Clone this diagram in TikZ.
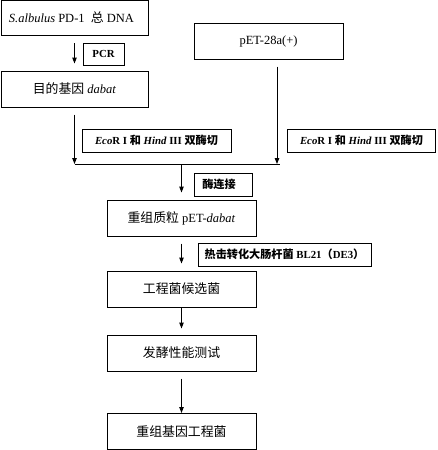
\documentclass[tikz,border=0pt]{standalone}
\usepackage{fontspec}
\setmainfont{Liberation Serif}
\newfontfamily\cjk[Scale=1.03]{Noto Sans CJK SC}
\usetikzlibrary{arrows.meta}
\begin{document}
\begin{tikzpicture}[x=1pt,y=-1pt,
  box/.style={draw, line width=1pt, minimum width=149pt, minimum height=36pt, inner sep=0pt, font=\fontsize{12.5}{14}\selectfont},
  lbl/.style={draw, line width=1pt, inner sep=0pt, minimum height=23pt, font=\bfseries\fontsize{10.8}{12}\selectfont},
  arr/.style={line width=1pt, -{Triangle[length=6pt,width=4.5pt]}},
  ln/.style={line width=1pt}]
\useasboundingbox (0,0) rectangle (437,450);
\node[box, minimum width=147pt, minimum height=35pt] (b1) at (74.5,18) {\hspace*{-6pt}{\itshape S.albulus} PD-1\ \ {\cjk 总} DNA};
\node[box, minimum width=147pt] (b2) at (74.5,89) {{\cjk 目的基因} \textit{dabat}};
\node[box] (pet) at (268.5,41) {pET-28a(+)};
\node[lbl, minimum width=41pt, minimum height=22pt] (pcr) at (103.5,54) {PCR};
\node[lbl, minimum width=149pt] (lab1) at (156.5,140.5) {\textit{Eco}R I {\cjk 和} \textit{Hind} III {\cjk 双酶切}};
\node[lbl, minimum width=148pt] (lab2) at (361.5,140.5) {\textit{Eco}R I {\cjk 和} \textit{Hind} III {\cjk 双酶切}};
\node[lbl, minimum width=58pt] (lig) at (223,184.5) {{\cjk 酶连接}\hspace*{8pt}};
\node[box] (b3) at (181.5,218) {{\cjk 重组质粒} pET-\textit{dabat}};
\node[lbl, minimum width=173pt] (heat) at (284.5,254.5) {{\cjk 热击转化大肠杆菌} BL21{\cjk （}DE3{\cjk ）}};
\node[box] (b4) at (181.5,289) {{\cjk 工程菌候选菌}};
\node[box] (b5) at (181.5,353) {{\cjk 发酵性能测试}};
\node[box] (b6) at (181.5,431.5) {{\cjk 重组基因工程菌}};
\coordinate (jl) at (74.5,164);
\coordinate (jr) at (277,164);
\coordinate (je) at (280,164);
\coordinate (jm) at (181.5,164);
\draw[arr, shorten <=7pt, shorten >=7pt] (b1.south) -- (b2.north);
\draw[arr, shorten <=7pt] (b2.south) -- (jl);
\draw[arr, shorten <=7pt] (jr |- pet.south) -- (jr);
\draw[ln] (jl) -- (je);
\draw[arr, shorten >=7pt] (jm) -- (b3.north);
\draw[arr, shorten <=7pt, shorten >=7pt] (b3.south) -- (b4.north);
\draw[arr, shorten >=6pt] (b4.south) -- (b5.north);
\draw[arr, shorten <=7pt] (b5.south) -- (b6.north);
\end{tikzpicture}
\end{document}
